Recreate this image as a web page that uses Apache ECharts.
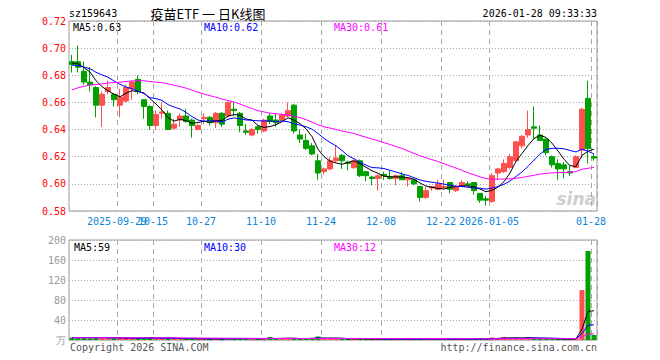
<!DOCTYPE html>
<html>
<head>
<meta charset="utf-8">
<script src="https://cdn.jsdelivr.net/npm/echarts@6/dist/echarts.min.js"></script>
<style>html,body{margin:0;padding:0;background:#fff}#c{width:660px;height:360px}</style>
</head>
<body>
<div id="c"></div>
<script>
const dates = ['2025-09-17','2025-09-18','2025-09-19','2025-09-22','2025-09-23','2025-09-24','2025-09-25','2025-09-26','2025-09-29','2025-09-30',
'2025-10-09','2025-10-10','2025-10-13','2025-10-14','2025-10-15','2025-10-16','2025-10-17','2025-10-20','2025-10-21','2025-10-22',
'2025-10-23','2025-10-24','2025-10-27','2025-10-28','2025-10-29','2025-10-30','2025-10-31','2025-11-03','2025-11-04','2025-11-05',
'2025-11-06','2025-11-07','2025-11-10','2025-11-11','2025-11-12','2025-11-13','2025-11-14','2025-11-17','2025-11-18','2025-11-19',
'2025-11-20','2025-11-21','2025-11-24','2025-11-25','2025-11-26','2025-11-27','2025-11-28','2025-12-01','2025-12-02','2025-12-03',
'2025-12-04','2025-12-05','2025-12-08','2025-12-09','2025-12-10','2025-12-11','2025-12-12','2025-12-15','2025-12-16','2025-12-17',
'2025-12-18','2025-12-19','2025-12-22','2025-12-23','2025-12-24','2025-12-25','2025-12-26','2025-12-29','2025-12-30','2025-12-31',
'2026-01-05','2026-01-06','2026-01-07','2026-01-08','2026-01-09','2026-01-12','2026-01-13','2026-01-14','2026-01-15','2026-01-16',
'2026-01-19','2026-01-20','2026-01-21','2026-01-22','2026-01-23','2026-01-26','2026-01-27','2026-01-28'];

const opens = [.690,.690,.683,.675,.671,.658,.668,.666,.658,.661, .670,.677,.662,.657,.643,.652,.652,.641,.647,.650,
 .647,.640,.648,.649,.645,.652,.650,.655,.652,.639, .636,.642,.639,.650,.647,.647,.650,.658,.636,.632,
 .628,.617,.609,.611,.617,.621,.616,.612,.617,.609, .605,.604,.607,.605,.604,.606,.603,.603,.598,.590,
 .597,.596,.597,.601,.595,.598,.600,.601,.593,.589, .587,.608,.609,.612,.617,.628,.636,.642,.636,.633,
 .620,.615,.614,.609,.612,.625,.663,.620];
const closes = [.688,.686,.675,.673,.658,.666,.671,.662,.664,.671, .675,.668,.657,.643,.651,.653,.640,.644,.650,.646,
 .643,.643,.649,.645,.652,.644,.660,.654,.643,.638, .640,.640,.647,.646,.645,.651,.654,.639,.633,.626,
 .622,.608,.611,.617,.619,.617,.615,.617,.606,.606, .604,.606,.606,.604,.606,.603,.604,.600,.590,.595,
 .598,.600,.598,.596,.598,.601,.599,.595,.588,.588, .606,.611,.615,.620,.631,.635,.640,.641,.632,.623,
 .614,.611,.611,.608,.620,.655,.626,.619];
const highs = [.695,.702,.690,.686,.672,.668,.676,.667,.670,.673, .676,.680,.662,.658,.654,.660,.654,.648,.652,.655,
 .648,.644,.652,.650,.653,.653,.661,.660,.653,.644, .641,.643,.648,.652,.652,.652,.660,.659,.640,.637,
 .630,.622,.612,.620,.628,.622,.617,.618,.618,.609, .606,.607,.609,.610,.607,.609,.604,.603,.598,.598,
 .598,.603,.603,.601,.599,.603,.602,.601,.593,.591, .608,.612,.618,.622,.631,.636,.654,.657,.643,.633,
 .621,.618,.616,.614,.621,.656,.676,.622];
const lows = [.682,.682,.673,.668,.649,.642,.666,.657,.649,.660, .662,.666,.648,.640,.640,.648,.640,.640,.642,.645,
 .634,.640,.644,.643,.641,.642,.649,.650,.638,.636, .635,.637,.638,.644,.642,.646,.649,.637,.630,.625,
 .621,.603,.607,.610,.616,.611,.610,.611,.605,.602, .599,.595,.603,.603,.599,.603,.598,.599,.587,.589,
 .595,.595,.596,.593,.594,.598,.598,.592,.586,.584, .586,.603,.608,.611,.617,.626,.634,.633,.632,.621,
 .612,.603,.604,.606,.612,.619,.615,.617];
// volume, unit 万
const volumes = [5,6,4,3,6,5,3,3,4,4, 3,4,4,6,3,3,4,2,2,2, 3,2,2,2,3,2,4,3,3,3, 2,2,3,6,2,3,4,3,2,3,
 4,7,2,3,3,2,2,2,3,2, 2,2,2,2,2,2,2,2,3,2, 2,2,2,2,2,2,2,2,3,2, 5,4,6,4,3,3,6,4,2,2, 2,2,2,2,3,100,178,10];
// estimated closes / volumes of the 29 sessions before the window (needed for moving averages)
const priorCloses = [.640,.643,.645,.648,.650,.652,.653,.655,.656,.661, .660,.662,.661,.664,.665,.666,
 .674,.678,.682,.688,.690, .686,.684,.685,.685, .688,.690,.689,.690];
const priorVolumes = [4,5,4,5,4,4,5,4,5,4, 4,5,4,4,5,4,4,5,4,4, 5,4,4,5,4,5,4,5,5];

const tickDates = ['2025-09-29','2025-10-15','2025-10-27','2025-11-10','2025-11-24','2025-12-08','2025-12-22','2026-01-05','2026-01-28'];
const tickTexts = ['2025-09-29','10-15','10-27','11-10','11-24','12-08','12-22','2026-01-05','01-28'];
const priceTicks = {min: 0.58, max: 0.72, step: 0.02};
const volTicks = {min: 0, max: 200, step: 40};

function movingAvg(n, vals, prior) {
  const all = prior.concat(vals);
  const off = prior.length;
  return vals.map((v, i) => {
    let s = 0;
    for (let k = off + i - n + 1; k <= off + i; k++) s += all[k];
    return s / n;
  });
}
const ma5 = movingAvg(5, closes, priorCloses), ma10 = movingAvg(10, closes, priorCloses), ma30 = movingAvg(30, closes, priorCloses);
const vma5 = movingAvg(5, volumes, priorVolumes), vma10 = movingAvg(10, volumes, priorVolumes), vma30 = movingAvg(30, volumes, priorVolumes);
const last = dates.length - 1;

const tickIdx = new Set(tickDates.map(d => dates.indexOf(d)));
const tickMap = {}; tickDates.forEach((d, k) => tickMap[d] = tickTexts[k]);
// the first tick label overlaps the second one in the original; draw it on its own axis so it is not dropped
const firstTick = dates.indexOf(tickDates[0]);
const restIdx = new Set([...tickIdx].filter(i => i !== firstTick));

const MONO = 'DejaVu Sans Mono';
const RED = '#ff5050', GREEN = '#00a000';
const GRIDC = '#a8a8a8';

const chart = echarts.init(document.getElementById('c'), null, {renderer: 'svg'});

function txt(text, x, y, fill, align, font) {
  return {type: 'text', silent: true, style: {text, x, y, fill, textAlign: align || 'left', textVerticalAlign: 'middle', font: font || ('10px "' + MONO + '"')}};
}

const xCommon = {
  type: 'category', data: dates, boundaryGap: true, position: 'bottom', offset: 0,
  axisLine: {show: false}, axisTick: {show: false},
  splitLine: {show: true, interval: (i) => tickIdx.has(i), lineStyle: {color: GRIDC, type: [5, 4], width: 1}}
};
const labelCommon = {show: true, formatter: (v) => tickMap[v] || '', color: '#0b84d6',
  fontFamily: MONO, fontSize: 10, margin: 5, padding: [0, 6, 0, 0], hideOverlap: false};

chart.setOption({
  animation: false,
  backgroundColor: '#ffffff',
  grid: [
    {left: 69, top: 21, width: 528, height: 190, show: true, borderColor: '#999', borderWidth: 1, backgroundColor: 'transparent'},
    {left: 69, top: 240, width: 528, height: 100, show: true, borderColor: '#999', borderWidth: 1, backgroundColor: 'transparent'}
  ],
  xAxis: [
    Object.assign({}, xCommon, {gridIndex: 0, axisLabel: Object.assign({}, labelCommon, {interval: (i) => restIdx.has(i)})}),
    Object.assign({}, xCommon, {gridIndex: 1, axisLabel: {show: false}}),
    Object.assign({}, xCommon, {gridIndex: 0, splitLine: {show: false}, axisLabel: Object.assign({}, labelCommon, {interval: (i) => i === firstTick})})
  ],
  yAxis: [
    {type: 'value', gridIndex: 0, min: priceTicks.min, max: priceTicks.max, interval: priceTicks.step,
      axisLine: {show: false}, axisTick: {show: false},
      axisLabel: {color: '#ff0000', fontFamily: MONO, fontSize: 10, margin: 3, formatter: (v) => v.toFixed(2)},
      splitLine: {show: true, lineStyle: {color: GRIDC, type: [1, 2], width: 1}}},
    {type: 'value', gridIndex: 1, min: volTicks.min, max: volTicks.max, interval: volTicks.step,
      axisLine: {show: false}, axisTick: {show: false},
      axisLabel: {color: '#999999', fontFamily: MONO, fontSize: 10, margin: 3, formatter: (v) => v === 0 ? '万' : String(v)},
      splitLine: {show: true, lineStyle: {color: GRIDC, type: [1, 2], width: 1}}}
  ],
  series: [
    {type: 'candlestick', xAxisIndex: 0, yAxisIndex: 0, barWidth: 5,
      data: dates.map((d, i) => [opens[i], closes[i], lows[i], highs[i]]),
      itemStyle: {color: RED, color0: GREEN, borderColor: RED, borderColor0: GREEN, borderWidth: 1}},
    {type: 'line', xAxisIndex: 0, yAxisIndex: 0, data: ma5, symbol: 'none', silent: true, lineStyle: {color: '#000000', width: 1}},
    {type: 'line', xAxisIndex: 0, yAxisIndex: 0, data: ma10, symbol: 'none', silent: true, lineStyle: {color: '#0000ff', width: 1}},
    {type: 'line', xAxisIndex: 0, yAxisIndex: 0, data: ma30, symbol: 'none', silent: true, lineStyle: {color: '#ff00ff', width: 1}},
    {type: 'bar', xAxisIndex: 1, yAxisIndex: 1, barWidth: 5,
      data: volumes.map((v, i) => ({value: v, itemStyle: {color: closes[i] >= opens[i] ? RED : GREEN}}))},
    {type: 'line', xAxisIndex: 1, yAxisIndex: 1, data: vma5, symbol: 'none', silent: true, lineStyle: {color: '#000000', width: 1}},
    {type: 'line', xAxisIndex: 1, yAxisIndex: 1, data: vma10, symbol: 'none', silent: true, lineStyle: {color: '#0000ff', width: 1}},
    {type: 'line', xAxisIndex: 1, yAxisIndex: 1, data: vma30, symbol: 'none', silent: true, lineStyle: {color: '#ff00ff', width: 1}}
  ],
  graphic: [
    txt('sz159643', 69, 13, '#000'),
    txt('疫苗ETF 一 日K线图', 208, 13, '#000', 'center', '13px "Noto Sans CJK SC"'),
    txt('2026-01-28 09:33:33', 597, 13, '#000', 'right'),
    txt('MA5:' + ma5[last].toFixed(2), 73, 27, '#000'),
    txt('MA10:' + ma10[last].toFixed(2), 204, 27, '#0000ff'),
    txt('MA30:' + ma30[last].toFixed(2), 334, 27, '#ff00ff'),
    txt('MA5:' + Math.round(vma5[last]), 74, 247, '#000'),
    txt('MA10:' + Math.round(vma10[last]), 204, 247, '#0000ff'),
    txt('MA30:' + Math.round(vma30[last]), 334, 247, '#ff00ff'),
    txt('Copyright 2026 SINA.COM', 70, 347, '#555'),
    txt('http://finance.sina.com.cn', 597, 347, '#555', 'right'),
    txt('sina', 596, 199, '#cfcfcf', 'right', 'italic bold 17px "DejaVu Sans"')
  ]
});
</script>
</body>
</html>
